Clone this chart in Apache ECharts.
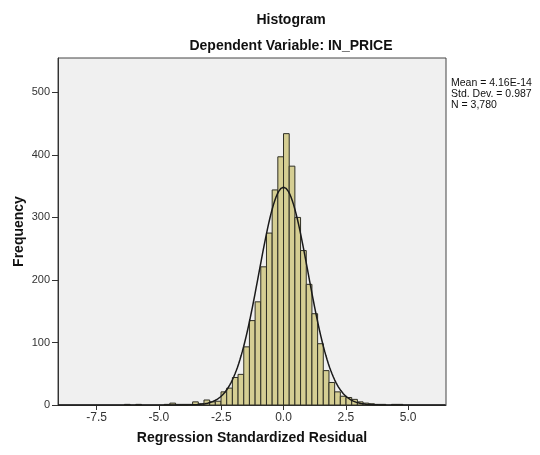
<!DOCTYPE html>
<html>
<head>
<meta charset="utf-8">
<script src="https://cdn.jsdelivr.net/npm/echarts@6/dist/echarts.min.js"></script>
<style>
  html, body { margin: 0; padding: 0; background: #fff; }
  #chart { width: 540px; height: 455px; }
</style>
</head>
<body>
<div id="chart"></div>
<script>
// histogram of regression standardized residuals
const binWidth = 0.228;
const firstBinStart = -6.384;
const counts = [
  1, 0, 1, 0, 0, 0, 0, 1, 3, 1, 1, 1, 5, 2, 8, 5, 6, 21, 27, 44, 49, 93,
  135, 165, 221, 275, 344, 397, 434, 382, 300, 247, 193, 146, 98, 55, 36,
  21, 14, 12, 9, 5, 3, 2, 1, 1, 0, 1, 1
];
const xTicks = [-7.5, -5.0, -2.5, 0.0, 2.5, 5.0];
const yTicks = [0, 100, 200, 300, 400, 500];
const statsMean = 4.16e-14;
const statsSd = 0.987;
const statsN = 3780;
const statLines = ['Mean = 4.16E-14', 'Std. Dev. = 0.987', 'N = 3,780'];

const FONT = '"Liberation Sans", Arial, sans-serif';

const barData = counts.map((c, i) => {
  const x0 = firstBinStart + i * binWidth;
  return [x0, x0 + binWidth, c];
});

// fitted normal curve from the shown stats
const curve = [];
const peak = statsN * binWidth / (statsSd * Math.sqrt(2 * Math.PI));
for (let x = -9.05; x <= 6.52; x += 0.05) {
  const z = (x - statsMean) / statsSd;
  curve.push([x, peak * Math.exp(-0.5 * z * z)]);
}

const chart = echarts.init(document.getElementById('chart'));

chart.setOption({
  animation: false,
  backgroundColor: '#ffffff',
  textStyle: { fontFamily: FONT },
  grid: {
    left: 58, top: 58, right: 94, bottom: 50,
    outerBoundsMode: 'none',
    containLabel: false,
    show: true,
    backgroundColor: '#f0f0f0',
    borderColor: '#444',
    borderWidth: 1
  },
  graphic: [
    { type: 'text', x: 291, y: 20, style: { text: 'Histogram', align: 'center', verticalAlign: 'middle', font: 'bold 14px ' + FONT, fill: '#111' } },
    { type: 'text', x: 291, y: 46, style: { text: 'Dependent Variable: IN_PRICE', align: 'center', verticalAlign: 'middle', font: 'bold 14px ' + FONT, fill: '#111' } },
    { type: 'text', x: 451, y: 78, style: { text: statLines.join('\n'), align: 'left', verticalAlign: 'top', lineHeight: 11, font: '10.5px ' + FONT, fill: '#111' } }
  ],
  xAxis: {
    type: 'value',
    min: -9.05,
    max: 6.52,
    name: 'Regression Standardized Residual',
    nameLocation: 'middle',
    nameGap: 26,
    nameTextStyle: { fontWeight: 'bold', fontSize: 14, color: '#111', fontFamily: FONT },
    splitLine: { show: false },
    axisLine: { show: true, onZero: false, lineStyle: { color: '#333', width: 1 } },
    axisTick: { show: true, length: 5, customValues: xTicks, lineStyle: { color: '#333' } },
    axisLabel: {
      customValues: xTicks,
      color: '#333', fontSize: 12, margin: 7, fontFamily: FONT,
      formatter: v => v.toFixed(1)
    }
  },
  yAxis: {
    type: 'value',
    min: 0,
    max: 555,
    name: 'Frequency',
    nameLocation: 'middle',
    nameGap: 32,
    nameMoveOverlap: false,
    nameRotate: 90,
    nameTextStyle: { fontWeight: 'bold', fontSize: 14, color: '#111', fontFamily: FONT },
    splitLine: { show: false },
    axisLine: { show: true, onZero: false, lineStyle: { color: '#333', width: 1 } },
    axisTick: { show: true, length: 6, customValues: yTicks, lineStyle: { color: '#333' } },
    axisLabel: { customValues: yTicks, color: '#333', fontSize: 11, margin: 8, fontFamily: FONT }
  },
  series: [
    {
      type: 'custom',
      data: barData,
      encode: { x: [0, 1], y: 2 },
      renderItem: (params, api) => {
        const c = api.value(2);
        if (!c) return null;
        const p0 = api.coord([api.value(0), c]);
        const p1 = api.coord([api.value(1), 0]);
        return {
          type: 'rect',
          shape: { x: p0[0], y: p0[1], width: p1[0] - p0[0], height: p1[1] - p0[1] },
          style: { fill: '#d5ce93', stroke: '#2e2e24', lineWidth: 1 }
        };
      },
      z: 2
    },
    {
      type: 'line',
      data: curve,
      showSymbol: false,
      smooth: false,
      lineStyle: { color: '#1a1a1a', width: 1.5 },
      z: 3
    }
  ]
});
</script>
</body>
</html>
